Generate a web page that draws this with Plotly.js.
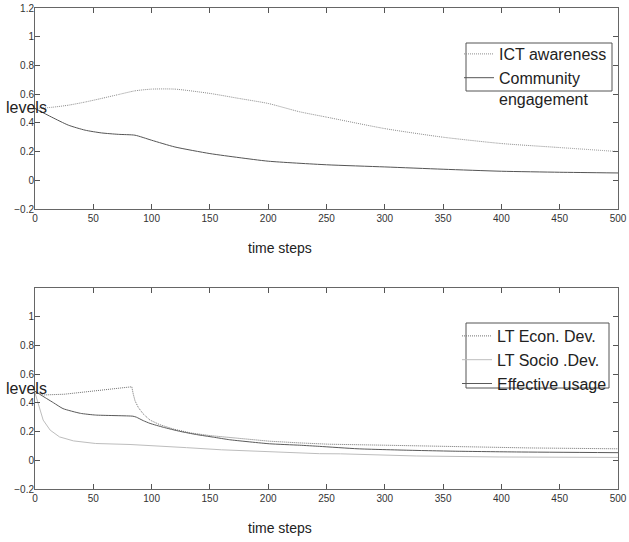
<!DOCTYPE html>
<html>
<head>
<meta charset="utf-8">
<script src="https://cdn.plot.ly/plotly-3.0.1.min.js"></script>
<style>html,body{margin:0;padding:0;background:#fff;}#chart{width:629px;height:542px;}</style>
</head>
<body>
<div id="chart"></div>
<script>
// ---- Data ----
const ictT = [0, 14, 28.6, 43, 57, 71.5, 85.7, 100, 120, 150, 175, 200, 227, 250, 300, 350, 400, 450, 500];
const ictV = [0.50, 0.508, 0.523, 0.545, 0.57, 0.597, 0.623, 0.635, 0.635, 0.605, 0.57, 0.535, 0.477, 0.44, 0.36, 0.30, 0.256, 0.228, 0.20];

const comT = [0, 14.3, 28.6, 43, 57, 71.5, 85.7, 100, 120, 150, 175, 200, 250, 300, 350, 400, 450, 500];
const comV = [0.50, 0.44, 0.384, 0.349, 0.33, 0.32, 0.314, 0.279, 0.232, 0.186, 0.158, 0.133, 0.108, 0.093, 0.077, 0.063, 0.056, 0.051];

const econT = [0, 7, 25, 50, 80, 83, 84.3, 85.8, 88.6, 92.9, 98.6, 107, 118.6, 133, 150, 167, 201, 227, 252, 300, 327, 370, 424, 500];
const econV = [0.48, 0.455, 0.46, 0.483, 0.508, 0.512, 0.46, 0.414, 0.368, 0.322, 0.28, 0.248, 0.218, 0.191, 0.172, 0.158, 0.133, 0.121, 0.112, 0.105, 0.10, 0.093, 0.086, 0.08];

const socT = [0, 4, 7, 13, 21, 33, 52, 81.5, 100, 130, 160, 200, 244, 262, 327, 398, 500];
const socV = [0.47, 0.37, 0.28, 0.21, 0.163, 0.135, 0.117, 0.11, 0.10, 0.088, 0.073, 0.058, 0.046, 0.045, 0.03, 0.023, 0.02];

const effT = [0, 10, 16, 24, 39, 52, 84, 87, 92.9, 98.6, 110, 124, 138.6, 153, 167, 201, 227, 244, 277, 320, 362, 413, 500];
const effV = [0.48, 0.43, 0.40, 0.36, 0.327, 0.315, 0.307, 0.30, 0.276, 0.257, 0.23, 0.202, 0.179, 0.161, 0.143, 0.115, 0.105, 0.097, 0.08, 0.07, 0.063, 0.058, 0.053];

const xTicks = [0, 50, 100, 150, 200, 250, 300, 350, 400, 450, 500];
const yTicksTop = [-0.2, 0, 0.2, 0.4, 0.6, 0.8, 1, 1.2];
const yTicksBot = [-0.2, 0, 0.2, 0.4, 0.6, 0.8, 1];

const FONT = 'Liberation Sans, Arial, sans-serif';

const traces = [
  {x: ictT, y: ictV, name: 'ICT awareness', xaxis: 'x', yaxis: 'y', mode: 'lines',
   line: {color: '#8c8c8c', width: 1, dash: '1px,1px', shape: 'spline', smoothing: 0.6}, legend: 'legend'},
  {x: comT, y: comV, name: 'Community<br>engagement', xaxis: 'x', yaxis: 'y', mode: 'lines',
   line: {color: '#555555', width: 1, shape: 'spline', smoothing: 0.6}, legend: 'legend'},
  {x: econT, y: econV, name: 'LT Econ. Dev.', xaxis: 'x2', yaxis: 'y2', mode: 'lines',
   line: {color: '#707070', width: 1, dash: '1px,1px'}, legend: 'legend2'},
  {x: socT, y: socV, name: 'LT Socio .Dev.', xaxis: 'x2', yaxis: 'y2', mode: 'lines',
   line: {color: '#bdbdbd', width: 1}, legend: 'legend2'},
  {x: effT, y: effV, name: 'Effective usage', xaxis: 'x2', yaxis: 'y2', mode: 'lines',
   line: {color: '#5a5a5a', width: 1, shape: 'spline', smoothing: 0.5}, legend: 'legend2'}
];

function xAx(anchor) {
  return {domain: [35/629, 618/629], range: [0, 500], anchor: anchor,
    tickvals: xTicks, ticks: 'inside', ticklen: 5, tickcolor: '#555', mirror: 'ticks',
    showline: true, linecolor: '#666', linewidth: 1, showgrid: false, zeroline: false,
    tickfont: {family: FONT, size: 10, color: '#333'}};
}
function yAx(anchor, dom, tv) {
  return {domain: dom, range: [-0.2, 1.2], anchor: anchor,
    tickvals: tv, ticks: 'inside', ticklen: 5, tickcolor: '#555', mirror: 'ticks',
    showline: true, linecolor: '#666', linewidth: 1, showgrid: false, zeroline: false,
    ticklabelstandoff: -2,
    tickfont: {family: FONT, size: 10, color: '#333'}};
}

const layout = {
  width: 629, height: 542,
  margin: {l: 0, r: 0, t: 0, b: 0},
  paper_bgcolor: '#fff', plot_bgcolor: '#fff',
  font: {family: FONT, color: '#222'},
  xaxis: xAx('y'),
  yaxis: yAx('x', [1 - 209/542, 1 - 8/542], yTicksTop),
  xaxis2: xAx('y2'),
  yaxis2: yAx('x2', [1 - 489/542, 1 - 288/542], yTicksBot),
  legend: {x: 459/629, xanchor: 'left', y: 1 - 37/542, yanchor: 'top',
    bgcolor: 'rgba(0,0,0,0)', borderwidth: 0, valign: 'top',
    font: {family: FONT, size: 16, color: '#222'}, itemwidth: 30, tracegroupgap: 0},
  legend2: {x: 457/629, xanchor: 'left', y: 1 - 319/542, yanchor: 'top',
    bgcolor: 'rgba(0,0,0,0)', borderwidth: 0, valign: 'top',
    font: {family: FONT, size: 16, color: '#222'}, itemwidth: 30, tracegroupgap: 0},
  shapes: [
    {type: 'rect', xref: 'paper', yref: 'paper', x0: 466/629, x1: 612/629, y0: 1 - 91/542, y1: 1 - 43/542,
     line: {color: '#555', width: 1}, fillcolor: 'rgba(0,0,0,0)'},
    {type: 'rect', xref: 'paper', yref: 'paper', x0: 466/629, x1: 609/629, y0: 1 - 388/542, y1: 1 - 323/542,
     line: {color: '#555', width: 1}, fillcolor: 'rgba(0,0,0,0)'}
  ],
  annotations: [
    {text: 'levels', xref: 'paper', yref: 'paper', x: 4/629, y: 1 - 108/542, xanchor: 'left', yanchor: 'middle',
     showarrow: false, font: {family: FONT, size: 16, color: '#222'}},
    {text: 'levels', xref: 'paper', yref: 'paper', x: 4/629, y: 1 - 388/542, xanchor: 'left', yanchor: 'middle',
     showarrow: false, font: {family: FONT, size: 16, color: '#222'}},
    {text: 'time steps', xref: 'paper', yref: 'paper', x: 280/629, y: 1 - 248/542, xanchor: 'center', yanchor: 'middle',
     showarrow: false, font: {family: FONT, size: 14, color: '#222'}},
    {text: 'time steps', xref: 'paper', yref: 'paper', x: 280/629, y: 1 - 528/542, xanchor: 'center', yanchor: 'middle',
     showarrow: false, font: {family: FONT, size: 14, color: '#222'}}
  ],
  showlegend: true
};

Plotly.newPlot('chart', traces, layout, {displayModeBar: false, staticPlot: true});
</script>
</body>
</html>
